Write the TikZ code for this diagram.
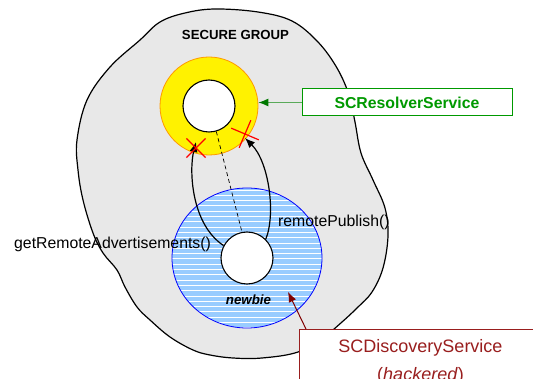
\documentclass[tikz,border=0pt]{standalone}
\usepackage{fontspec}
\setmainfont{Liberation Sans}
\usepackage{xcolor}
\usetikzlibrary{arrows.meta,positioning,shapes.geometric,shapes.misc}
\definecolor{grpgray}{RGB}{232,232,232}
\definecolor{resgreen}{RGB}{0,153,0}
\definecolor{resline}{RGB}{90,170,90}
\definecolor{reshead}{RGB}{0,120,0}
\definecolor{ringorange}{RGB}{255,153,0}
\definecolor{newbieblue}{RGB}{153,204,255}
\definecolor{discred}{RGB}{153,30,30}
\definecolor{discarrow}{RGB}{128,0,0}
\tikzset{
  px/.style={x=1pt, y=-1pt},
  g group/.style={draw=black, line width=1.2pt, fill=grpgray},
  g ring/.style={circle, draw=ringorange, line width=0.8pt, fill=yellow, minimum size=98pt, inner sep=0pt},
  g core/.style={circle, draw=black, line width=1.1pt, fill=white, minimum size=52pt, inner sep=0pt},
  g disc/.style={ellipse, draw=blue, line width=0.8pt, fill=newbieblue, minimum width=150pt, minimum height=140pt, inner sep=0pt,
    path picture={\foreach \k in {0,...,27}
      \draw[white, line width=0.9pt] ([yshift=-\k*5.3pt-2pt]path picture bounding box.north west) -- ([yshift=-\k*5.3pt-2pt]path picture bounding box.north east);}},
  g stop/.style={cross out, draw=red, line width=1.2pt, minimum size=18pt, inner sep=0pt},
  g call/.style={-{Latex[length=10pt,width=8pt]}, line width=1.2pt},
  g link/.style={line width=0.7pt, dash pattern=on 4pt off 3pt},
  g point/.style={-{Latex[length=10pt,width=8pt,color=reshead]}, resline, line width=1pt},
  g hack/.style={-{Latex[length=10pt,width=8pt]}, discarrow, line width=1pt},
  g title/.style={font=\fontsize{13.2pt}{16pt}\selectfont\bfseries, inner sep=0pt},
  g label/.style={font=\fontsize{15.8pt}{19pt}\selectfont, inner sep=0pt},
  g tag/.style={font=\fontsize{13.3pt}{16pt}\selectfont\bfseries\itshape, inner sep=0pt},
  g res box/.style={draw=resgreen, line width=1pt, fill=white, text=resgreen, minimum width=210pt, minimum height=27pt, inner sep=0pt, font=\fontsize{15.8pt}{19pt}\selectfont\bfseries},
  g disc box/.style={draw=discred, line width=1pt, fill=white, text=discred, minimum width=242pt, inner xsep=0pt, inner ysep=10pt, align=center, font=\fontsize{18pt}{28pt}\selectfont},
}
\begin{document}
\begin{tikzpicture}[px]
\useasboundingbox (0,0) rectangle (533,379);
\clip (0,0) rectangle (533,379);
% secure group
\draw[g group] plot[smooth cycle, tension=0.6] coordinates {(215,9) (258,12) (292,21) (318,42) (337,68) (349,95) (355,122) (361,153) (373,180) (385,208) (388,236) (383,268) (372,292) (357,308) (342,322) (325,336) (298,352) (262,358) (233,358) (210,355) (193,350) (170,337) (150,320) (137,307) (125,287) (117,270) (103,253) (93,233) (83,200) (78,170) (77,140) (87,100) (110,67) (140,40) (160,22) (185,13)};
\node[g title] (groupTitle) at (235.5,35) {SECURE GROUP};
% resolver and newbie
\node[g ring] (resolver) at (209,106) {};
\node[g core] (resolverCore) at (209,106) {};
\node[g disc] (newbie) at (247,258) {};
\node[g core] (newbieCore) at (247,258) {};
\node[g tag, anchor=base] (newbieName) at (248.5,305) {newbie};
\draw[g link] (resolverCore.286) -- (newbieCore.101);
% calls
\node (stopL) at (196,148) {};
\node (stopR) at (245,134) {};
\draw[g call] (newbieCore.152) .. controls (191,224) and (189,170) .. ([yshift=6pt]stopL.center);
\draw[g call] (newbieCore.45) .. controls (276,214) and (269,162) .. ([yshift=-4pt]stopR.center);
\node[g stop] at (stopL.center) {};
\node[g stop, rotate=22, minimum size=20pt] at (stopR.center) {};
\node[g label, anchor=base west] (getAdv) at (14,249) {getRemoteAdvertisements()};
\node[g label, anchor=base west] (pub) at (278,227) {remotePublish()};
% services
\node[g res box] (scres) at (407,102.5) {SCResolverService};
\draw[g point] (scres.west) -- (scres.west -| resolver.east);
\node[g disc box, anchor=north west] (scdisc) at (299,329) {SCDiscoveryService\\(\textit{hackered})};
\coordinate (hitNewbie) at (288,292);
\draw[g hack] ([xshift=7pt]scdisc.north west) -- (hitNewbie);
\end{tikzpicture}
\end{document}
